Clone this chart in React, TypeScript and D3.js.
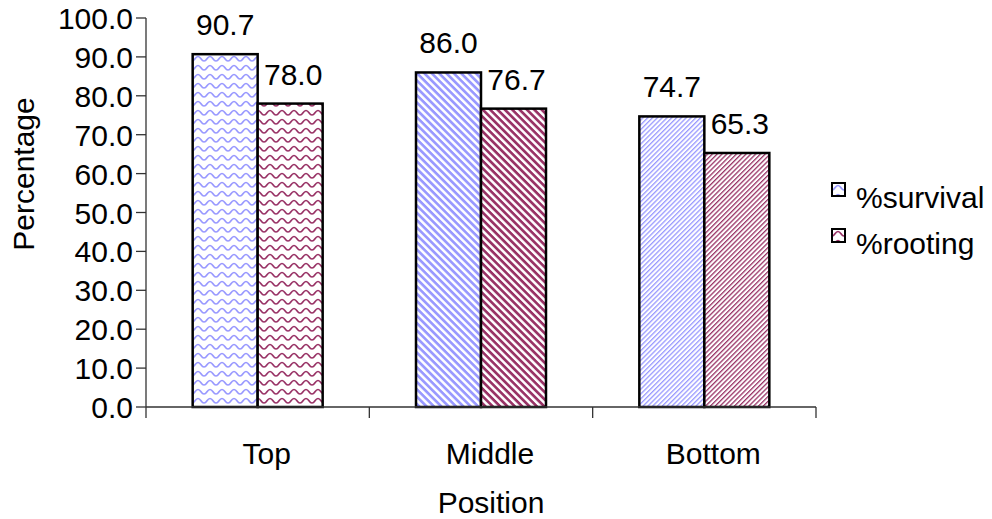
import React from "react";
import * as d3 from "d3";

const categories = ["Top", "Middle", "Bottom"];
const seriesNames = ["%survival", "%rooting"];
const survival = [90.7, 86.0, 74.7];
const rooting = [78.0, 76.7, 65.3];
const yTicks = [0, 10, 20, 30, 40, 50, 60, 70, 80, 90, 100];

const BLUE = "#9999ff";
const PLUM = "#993366";
const FONT = "'Liberation Sans', Arial, Helvetica, sans-serif";

const patternKinds = ["wave", "down", "up"];

export default function App() {
  const W = 992, H = 519;
  const x0 = 146, x1 = 816, yTop = 18, yBot = 407;
  const y = d3.scaleLinear().domain([0, 100]).range([yBot, yTop]);
  const xCat = d3.scaleBand<string>().domain(categories).range([x0, x1]).padding(0);
  const xSer = d3.scaleBand<string>().domain(seriesNames).range([0, xCat.bandwidth()]).paddingInner(0).paddingOuter(0.718);
  const values = [survival, rooting];
  const fs = 30;

  const patDefs = [BLUE, PLUM].map((c, si) => (
    <React.Fragment key={si}>
      <pattern id={`wave${si}`} patternUnits="userSpaceOnUse" width={12} height={9}>
        <rect width={12} height={9} fill="#fff" />
        <path d="M0,7 C3,7 3,2.5 6,2.5 C9,2.5 9,7 12,7" fill="none" stroke={c} strokeWidth={1.7} />
      </pattern>
      <pattern id={`down${si}`} patternUnits="userSpaceOnUse" width={5.2} height={5.2} patternTransform="rotate(45)">
        <rect width={5.2} height={5.2} fill="#fff" />
        <rect width={5.2} height={2.7} fill={c} />
      </pattern>
      <pattern id={`up${si}`} patternUnits="userSpaceOnUse" width={3.4} height={3.4} patternTransform="rotate(-45)">
        <rect width={3.4} height={3.4} fill="#fff" />
        <rect width={3.4} height={1.3} fill={c} />
      </pattern>
    </React.Fragment>
  ));

  return (
    <svg width={W} height={H} style={{ position: "absolute", left: 0, top: 0, background: "#fff" }} fontFamily={FONT}>
      <defs>{patDefs}</defs>
      {categories.map((cat, ci) =>
        seriesNames.map((s, si) => {
          const v = values[si][ci];
          const bx = (xCat(cat) as number) + (xSer(s) as number);
          const bw = xSer.bandwidth();
          return (
            <g key={cat + s}>
              <rect x={bx} y={y(v)} width={bw} height={yBot - y(v)}
                fill={`url(#${patternKinds[ci]}${si})`} stroke="#000" strokeWidth={2.5} />
              <text x={bx + bw / 2 + (si === 1 ? 3 : 0)} y={y(v) - 19} fontSize={fs} textAnchor="middle" fill="#000">
                {v.toFixed(1)}
              </text>
            </g>
          );
        })
      )}
      <line x1={x0} x2={x0} y1={yTop} y2={yBot + 11} stroke="#333" strokeWidth={1.3} />
      {yTicks.map((t) => (
        <g key={t}>
          <line x1={x0 - 10} x2={x0} y1={y(t)} y2={y(t)} stroke="#333" strokeWidth={1.3} />
          <text x={x0 - 13} y={y(t) + 11} fontSize={fs} textAnchor="end" fill="#000">{t.toFixed(1)}</text>
        </g>
      ))}
      <line x1={x0} x2={x1} y1={yBot} y2={yBot} stroke="#333" strokeWidth={1.3} />
      {categories.map((cat) => {
        const right = (xCat(cat) as number) + xCat.bandwidth();
        return <line key={cat} x1={right} x2={right} y1={yBot} y2={yBot + 11} stroke="#333" strokeWidth={1.3} />;
      })}
      {categories.map((cat) => (
        <text key={cat} x={(xCat(cat) as number) + xCat.bandwidth() / 2 + 9} y={464} fontSize={fs} textAnchor="middle" fill="#000">{cat}</text>
      ))}
      <text x={491} y={513} fontSize={fs} textAnchor="middle" fill="#000">Position</text>
      <text transform={`translate(34,174) rotate(-90)`} fontSize={fs} textAnchor="middle" fill="#000">Percentage</text>
      {seriesNames.map((s, si) => (
        <g key={s} transform={`translate(832,${183 + si * 46})`}>
          <rect x={0} y={0} width={13} height={13} fill={`url(#wave${si})`} stroke="#000" strokeWidth={2} />
          <text x={24} y={25} fontSize={fs} fill="#000">{s}</text>
        </g>
      ))}
    </svg>
  );
}
